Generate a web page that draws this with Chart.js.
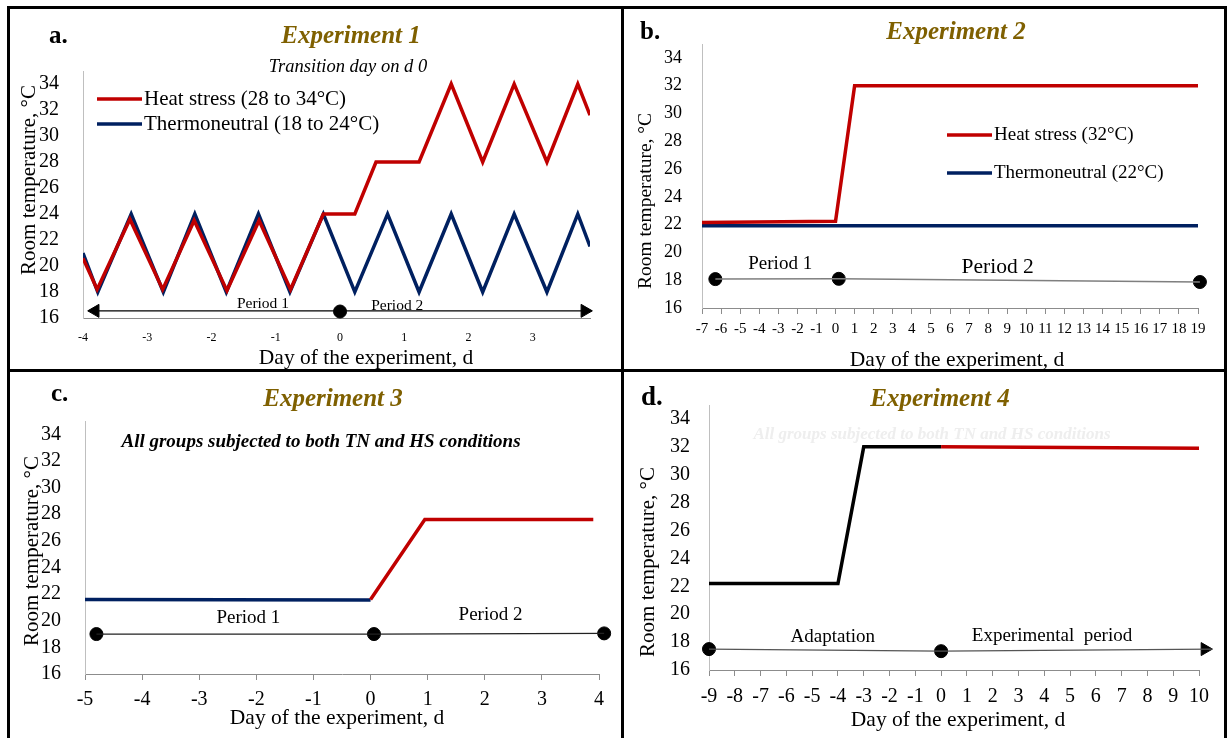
<!DOCTYPE html>
<html>
<head>
<meta charset="utf-8">
<script src="https://cdn.jsdelivr.net/npm/chart.js@4.4.1/dist/chart.umd.min.js"></script>
<style>
body { margin: 0; background: #fff; }
#wrap { position: relative; width: 1230px; height: 738px; overflow: hidden; background: #fff; }
canvas { position: absolute; }
.ln { position: absolute; background: #000; }
</style>
</head>
<body>
<div id="wrap">
  <canvas id="chartA" style="left:0px;top:0px" width="622" height="370"></canvas>
  <canvas id="chartB" style="left:622px;top:0px" width="608" height="370"></canvas>
  <canvas id="chartC" style="left:0px;top:370px" width="622" height="368"></canvas>
  <canvas id="chartD" style="left:622px;top:370px" width="608" height="368"></canvas>
  <div class="ln" style="left:7px;top:6px;width:3px;height:732px"></div>
  <div class="ln" style="left:7px;top:6px;width:1220px;height:3px"></div>
  <div class="ln" style="left:1224px;top:6px;width:3px;height:732px"></div>
  <div class="ln" style="left:621px;top:6px;width:3px;height:732px"></div>
  <div class="ln" style="left:7px;top:369px;width:1220px;height:3px"></div>
</div>
<script>
// ---- data: experiment 1 (cyclic temps)
var hsA_x = [-4, -3.78, -3.27, -2.76, -2.27, -1.76, -1.26, -0.77, -0.26, 0.23, 0.56, 1.23, 1.73, 2.22, 2.71, 3.22, 3.70, 3.89];
var hsA_y = [20.6, 18.2, 23.6, 18.2, 23.5, 18.1, 23.5, 18.2, 24, 24, 28, 28, 34, 28, 34, 28, 34, 31.6];
var tnA_x = [-4, -3.77, -3.25, -2.75, -2.26, -1.77, -1.27, -0.78, -0.26, 0.23, 0.74, 1.23, 1.73, 2.22, 2.71, 3.22, 3.70, 3.89];
var tnA_y = [21, 18, 24, 18, 24, 18, 24, 18, 24, 18, 24, 18, 24, 18, 24, 18, 24, 21.5];
var perA_x = [-3.92, 3.92];
var perA_y = [16.55, 16.55];
var dotA_x = [0];
var dotA_y = [16.5];
var arrA_x = [-3.81, 3.81];
var arrA_y = [16.55, 16.55];
var labA = ['Period 1', 'Period 2'];
var labA_x = [-1.2, 0.89];
var labA_y = [17.1, 16.95];

// ---- experiment 2
var hsB_x = [-7, 0, 1, 19];
var hsB_y = [22.15, 22.25, 32, 32];
var tnB_x = [-7, 19];
var tnB_y = [21.92, 21.92];
var perB_x = [-6.3, 0.17, 19.1];
var perB_y = [18.08, 18.1, 17.87];
var labB = ['Period 1', 'Period 2'];
var labB_x = [-2.9, 8.5];
var labB_y = [19.2, 18.9];

// ---- experiment 3
var tnC_x = [-5, 0];
var tnC_y = [21.6, 21.55];
var hsC_x = [0, 0.95, 3.9];
var hsC_y = [21.6, 27.6, 27.6];
var perC_x = [-4.8, 0.06, 4.09];
var perC_y = [19.0, 19.0, 19.05];
var labC = ['Period 1', 'Period 2'];
var labC_x = [-2.14, 2.1];
var labC_y = [20.2, 20.4];

// ---- experiment 4
var adD_x = [-9, -4, -3, 0];
var adD_y = [22.2, 22.2, 32, 32];
var hsD_x = [0, 10];
var hsD_y = [32, 31.9];
var perD_x = [-9, 0, 10.5];
var perD_y = [17.5, 17.35, 17.5];
var dotD_x = [-9, 0];
var dotD_y = [17.5, 17.35];
var arrD_x = [10.23];
var arrD_y = [17.5];
var labD = ['Adaptation', 'Experimental  period'];
var labD_x = [-4.2, 4.3];
var labD_y = [18.4, 18.45];

var RED = '#c00000';
var NAVY = '#002060';
var GOLD = '#7f6000';
var SERIF = '"Liberation Serif", "Times New Roman", serif';

Chart.defaults.font.family = SERIF;
Chart.defaults.color = '#000';

function xy(xs, ys) {
    return xs.map(function (v, i) { return { x: v, y: ys[i] }; });
}

function mainLine(label, xs, ys, color) {
    return { label: label, data: xy(xs, ys), borderColor: color, backgroundColor: color,
        borderWidth: 3.5, pointRadius: 0, tension: 0, fill: false };
}
function periodLine(xs, ys, color, w) {
    return { data: xy(xs, ys), borderColor: color, borderWidth: w, pointRadius: 0, clip: false, fill: false };
}
function dots(xs, ys) {
    return { data: xy(xs, ys), showLine: false, pointRadius: 6.5, pointBackgroundColor: '#000',
        pointBorderColor: '#000', clip: false };
}
function arrows(xs, ys, rot) {
    return { data: xy(xs, ys), showLine: false, pointStyle: 'triangle', pointRadius: 7.5,
        pointRotation: rot, pointBackgroundColor: '#000', pointBorderColor: '#000', clip: false };
}

// draws titles, legends and period labels
var panelText = {
    id: 'panelText',
    afterDatasetsDraw: function (chart, args, o) {
        var ctx = chart.ctx, sx = chart.scales.x, sy = chart.scales.y;
        ctx.save();
        ctx.textBaseline = 'middle';
        (o.fixed || []).forEach(function (t) {
            ctx.save();
            ctx.font = t.font;
            ctx.fillStyle = t.color || '#000';
            ctx.textAlign = t.align || 'center';
            ctx.translate(t.x, t.y);
            if (t.rot) ctx.rotate(t.rot);
            ctx.fillText(t.text, 0, 0);
            ctx.restore();
        });
        if (o.labels) {
            ctx.fillStyle = '#000';
            ctx.textAlign = 'center';
            o.labels.forEach(function (s, i) {
                ctx.font = o.labelSize[i] + 'px ' + SERIF;
                ctx.fillText(s, sx.getPixelForValue(o.labelX[i]), sy.getPixelForValue(o.labelY[i]));
            });
        }
        if (o.legend) {
            var L = o.legend;
            L.items.forEach(function (di, k) {
                var ds = chart.data.datasets[di];
                var yy = L.y[k];
                ctx.strokeStyle = ds.borderColor;
                ctx.lineWidth = 3.5;
                ctx.beginPath();
                ctx.moveTo(L.x, yy);
                ctx.lineTo(L.x + L.len, yy);
                ctx.stroke();
                ctx.font = L.font;
                ctx.fillStyle = '#000';
                ctx.textAlign = 'left';
                ctx.fillText(ds.label, L.x + L.len + 2, yy);
            });
        }
        ctx.restore();
    }
};

function makeChart(id, cfg) {
    var el = document.getElementById(id);
    var W = el.width, H = el.height;
    return new Chart(el, {
        type: 'line',
        data: { datasets: cfg.datasets },
        plugins: [panelText],
        options: {
            responsive: false,
            animation: false,
            devicePixelRatio: 1,
            layout: { padding: { left: 0, top: cfg.area.top, right: W - cfg.area.right, bottom: 0 } },
            scales: {
                x: {
                    type: 'linear', min: cfg.xMin, max: cfg.xMax,
                    border: { display: true, color: '#8c8c8c', width: 1 },
                    grid: { display: cfg.xTicks, drawOnChartArea: false, drawTicks: cfg.xTicks, tickLength: 6, color: '#8c8c8c' },
                    ticks: { stepSize: 1, includeBounds: false, autoSkip: false, maxRotation: 0, padding: cfg.xPad,
                        font: { size: cfg.xFont }, color: '#000' },
                    afterBuildTicks: function (s) { s.ticks = s.ticks.filter(function (t) { return Number.isInteger(t.value); }); },
                    afterFit: function (s) { s.height = H - cfg.area.bottom; }
                },
                y: {
                    type: 'linear', min: 16, max: 35,
                    border: { display: true, color: '#bfbfbf', width: 1 },
                    grid: { display: false, drawTicks: false },
                    ticks: { stepSize: 2, includeBounds: false, padding: cfg.yPad, font: { size: cfg.yFont }, color: '#000' },
                    afterBuildTicks: function (s) { s.ticks = s.ticks.filter(function (t) { return t.value % 2 === 0; }); },
                    afterFit: function (s) { s.width = cfg.area.left; }
                }
            },
            plugins: {
                legend: { display: false },
                tooltip: { enabled: false },
                panelText: cfg.text
            }
        }
    });
}

var yTitle = 'Room temperature, \u00B0C';
var xTitle = 'Day of the experiment, d';
var TITLE_FONT = 'italic bold 25px ' + SERIF;
var AXIS_FONT = '21.5px ' + SERIF;

makeChart('chartA', {
    area: { left: 83, top: 71, right: 590, bottom: 318 },
    xMin: -4, xMax: 3.89, xTicks: false, xPad: 13, xFont: 12, yPad: 24, yFont: 20,
    datasets: [
        mainLine('Heat stress (28 to 34\u00B0C)', hsA_x, hsA_y, RED),
        mainLine('Thermoneutral (18 to 24\u00B0C)', tnA_x, tnA_y, NAVY),
        periodLine(perA_x, perA_y, '#000', 1.3),
        dots(dotA_x, dotA_y),
        arrows(arrA_x, arrA_y, [270, 90])
    ],
    text: {
        fixed: [
            { text: 'a.', x: 49, y: 37, font: 'bold 25px ' + SERIF, align: 'left' },
            { text: 'Experiment 1', x: 351, y: 37, font: TITLE_FONT, color: GOLD },
            { text: 'Transition day on d 0', x: 348, y: 67, font: 'italic 18.5px ' + SERIF },
            { text: yTitle, x: 29, y: 180, font: '21px ' + SERIF, rot: -Math.PI / 2 },
            { text: xTitle, x: 366, y: 358, font: AXIS_FONT }
        ],
        labels: labA, labelX: labA_x, labelY: labA_y, labelSize: [15.5, 15.5],
        legend: { items: [0, 1], x: 97, y: [99, 124], len: 45, font: '21px ' + SERIF }
    }
});

makeChart('chartB', {
    area: { left: 80, top: 44, right: 576, bottom: 308 },
    xMin: -7, xMax: 19, xTicks: true, xPad: 6, xFont: 15, yPad: 20, yFont: 18,
    datasets: [
        mainLine('Heat stress (32\u00B0C)', hsB_x, hsB_y, RED),
        mainLine('Thermoneutral (22\u00B0C)', tnB_x, tnB_y, NAVY),
        periodLine(perB_x, perB_y, '#7f7f7f', 1.5),
        dots(perB_x, perB_y)
    ],
    text: {
        fixed: [
            { text: 'b.', x: 18, y: 33, font: 'bold 25px ' + SERIF, align: 'left' },
            { text: 'Experiment 2', x: 334, y: 33, font: TITLE_FONT, color: GOLD },
            { text: yTitle, x: 24, y: 201, font: '19.5px ' + SERIF, rot: -Math.PI / 2 },
            { text: xTitle, x: 335, y: 360, font: AXIS_FONT }
        ],
        labels: labB, labelX: labB_x, labelY: labB_y, labelSize: [19, 21.5],
        legend: { items: [0, 1], x: 325, y: [135, 173], len: 45, font: '19px ' + SERIF }
    }
});

makeChart('chartC', {
    area: { left: 85, top: 51, right: 599, bottom: 304 },
    xMin: -5, xMax: 4, xTicks: true, xPad: 8, xFont: 20, yPad: 24, yFont: 20,
    datasets: [
        mainLine('Heat stress', hsC_x, hsC_y, RED),
        mainLine('Thermoneutral', tnC_x, tnC_y, NAVY),
        periodLine(perC_x, perC_y, '#222', 1.2),
        dots(perC_x, perC_y)
    ],
    text: {
        fixed: [
            { text: 'c.', x: 51, y: 25, font: 'bold 25px ' + SERIF, align: 'left' },
            { text: 'Experiment 3', x: 333, y: 30, font: TITLE_FONT, color: GOLD },
            { text: 'All groups subjected to both TN and HS conditions', x: 321, y: 72, font: 'italic bold 19px ' + SERIF },
            { text: yTitle, x: 32, y: 181, font: '21px ' + SERIF, rot: -Math.PI / 2 },
            { text: xTitle, x: 337, y: 348, font: AXIS_FONT }
        ],
        labels: labC, labelX: labC_x, labelY: labC_y, labelSize: [19, 19]
    }
});

makeChart('chartD', {
    area: { left: 87, top: 35, right: 577, bottom: 300 },
    xMin: -9, xMax: 10, xTicks: true, xPad: 9, xFont: 20, yPad: 19, yFont: 20,
    datasets: [
        mainLine('Heat stress', hsD_x, hsD_y, RED),
        mainLine('Adaptation', adD_x, adD_y, '#000'),
        periodLine(perD_x, perD_y, '#555', 1.3),
        dots(dotD_x, dotD_y),
        arrows(arrD_x, arrD_y, [90])
    ],
    text: {
        fixed: [
            { text: 'd.', x: 19, y: 28, font: 'bold 27px ' + SERIF, align: 'left' },
            { text: 'Experiment 4', x: 318, y: 30, font: TITLE_FONT, color: GOLD },
            { text: 'All groups subjected to both TN and HS conditions', x: 310, y: 65, font: 'italic bold 17px ' + SERIF, color: '#eeeeee' },
            { text: yTitle, x: 26, y: 192, font: '21px ' + SERIF, rot: -Math.PI / 2 },
            { text: xTitle, x: 336, y: 350, font: AXIS_FONT }
        ],
        labels: labD, labelX: labD_x, labelY: labD_y, labelSize: [19, 19]
    }
});
</script>
</body>
</html>
